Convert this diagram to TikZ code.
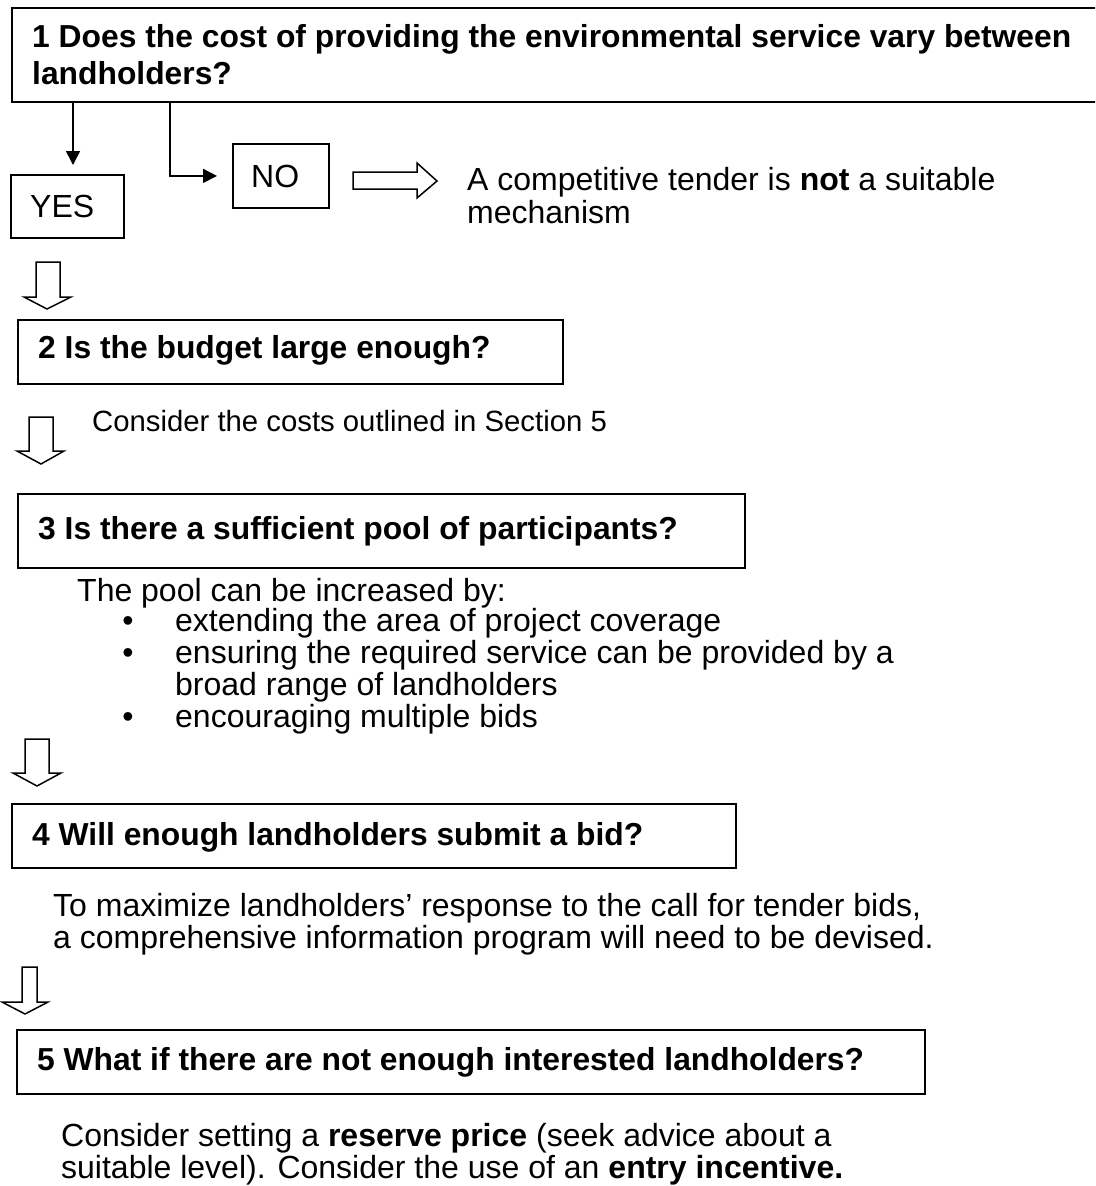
\documentclass[tikz,border=0pt]{standalone}
\usepackage{fontspec}
\setmainfont{Liberation Sans}
\usetikzlibrary{arrows.meta}

% hollow block arrow pointing down:
% shaft left/right, shaft top, head top, head left/right, tip x/y
\newcommand\hollowdown[8]{%
  \draw[hollow] (#1,#3) -- (#2,#3) -- (#2,#4) -- (#6,#4) -- (#7,#8)
    -- (#5,#4) -- (#1,#4) -- cycle;}

\tikzset{
  frame/.style={draw=black, line width=1.8pt, inner sep=0pt, anchor=north west},
  heading/.style={font=\fontsize{31.8}{36}\selectfont\bfseries, anchor=base west, inner sep=0pt},
  bodytext/.style={font=\fontsize{32}{34}\selectfont, anchor=base west, inner sep=0pt},
  smalltext/.style={font=\fontsize{29.3}{33}\selectfont, anchor=base west, inner sep=0pt},
  bulletmark/.style={font=\fontsize{32}{34}\selectfont, anchor=base, inner sep=0pt},
  conn/.style={line width=1.6pt, -{Triangle[width=14pt,length=14pt]}},
  hollow/.style={draw=black, line width=1.5pt, fill=white, line join=miter},
}

\begin{document}
\begin{tikzpicture}[x=1pt,y=-1pt]
\useasboundingbox (0,0) rectangle (1095,1186);
\fill[white] (0,0) rectangle (1095,1186);
\clip (0,0) rectangle (1095,1186);

% question 1 and its two answers
\node[frame, line width=2.4pt, minimum width=1090pt, minimum height=94pt] (q1) at (10.5,7) {};
\node[heading] (q1a) at (32,47) {1 Does the cost of providing the environmental service vary between};
\node[heading] (q1b) at (32,84) {landholders?};

\node[frame, minimum width=113pt, minimum height=63pt] (yes) at (10,174) {};
\node[bodytext] (yest) at (30,217) {YES};
\node[frame, minimum width=96pt, minimum height=64pt] (no) at (232,143) {};
\node[bodytext] (not) at (251,187) {NO};

\coordinate (ya) at (73,0);
\coordinate (na) at (170,0);
\draw[conn, shorten >=9pt] (q1.south -| ya) -- (yes.north -| ya);
\draw[conn, shorten >=15pt] (q1.south -| na) |- (no.west);

\draw[hollow] (353,172) -- (417,172) -- (417,163) -- (437,181) -- (417,198)
  -- (417,189) -- (353,189) -- cycle;
\node[bodytext] (not1) at (467,190) {A competitive tender is \textbf{not} a suitable};
\node[bodytext] (not2) at (467,223) {mechanism};

% question 2
\hollowdown{36}{60}{262}{297}{24}{71}{47}{309}
\node[frame, minimum width=545pt, minimum height=64pt] (q2) at (17,319) {};
\node[heading] (q2a) at (38,358) {2 Is the budget large enough?};
\node[smalltext] (n2) at (92,431) {Consider the costs outlined in Section 5};

% question 3
\hollowdown{29}{53}{417}{451}{17}{64}{41}{464}
\node[frame, minimum width=727pt, minimum height=74pt] (q3) at (17,493) {};
\node[heading] (q3a) at (38,539) {3 Is there a sufficient pool of participants?};
\node[bodytext] (n3) at (77,601) {The pool can be increased by:};
\node[bulletmark] (d1) at (128,631) {•};
\node[bodytext] (i1) at (175,631) {extending the area of project coverage};
\node[bulletmark] (d2) at (128,663) {•};
\node[bodytext] (i2a) at (175,663) {ensuring the required service can be provided by a};
\node[bodytext] (i2b) at (175,695) {broad range of landholders};
\node[bulletmark] (d3) at (128,727) {•};
\node[bodytext] (i3) at (175,727) {encouraging multiple bids};

% question 4
\hollowdown{25}{49}{739}{773}{13}{61}{37}{786}
\node[frame, minimum width=724pt, minimum height=64pt] (q4) at (11,803) {};
\node[heading] (q4a) at (32,845) {4 Will enough landholders submit a bid?};
\node[bodytext] (n4a) at (53,916) {To maximize landholders’ response to the call for tender bids,};
\node[bodytext] (n4b) at (53,948) {a comprehensive information program will need to be devised.};

% question 5
\hollowdown{22}{37}{967}{1002}{2}{48}{25}{1014}
\node[frame, minimum width=908pt, minimum height=64pt] (q5) at (16,1029) {};
\node[heading] (q5a) at (37,1070) {5 What if there are not enough interested landholders?};
\node[bodytext] (n5a) at (61,1146) {Consider setting a \textbf{reserve price} (seek advice about a};
\node[bodytext] (n5b) at (61,1178) {suitable level). Consider the use of an \textbf{entry incentive.}};
\end{tikzpicture}
\end{document}
